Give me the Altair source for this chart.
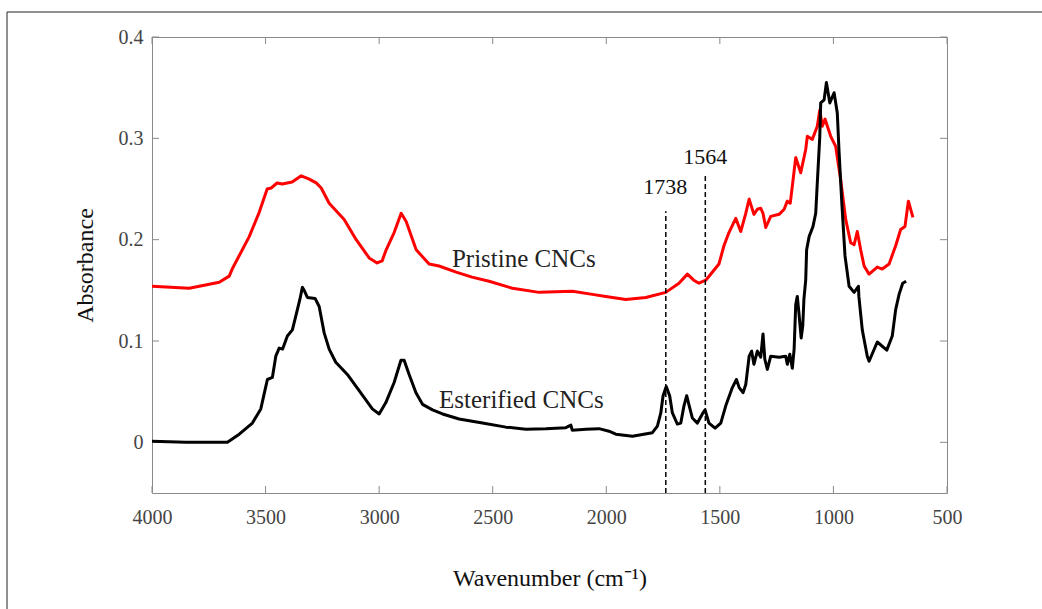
import altair as alt
import pandas as pd

# ---------------- data ----------------
pristine_wn = [4000, 3836, 3704, 3660, 3647, 3572, 3528, 3493, 3475, 3449, 3427, 3383, 3343, 3310,
               3277, 3255, 3220, 3154, 3101, 3044, 3009, 2987, 2969, 2934, 2903, 2881, 2837, 2780,
               2736, 2661, 2591, 2516, 2413, 2296, 2149, 2061, 2002, 1914, 1826, 1738, 1680, 1643,
               1615, 1592, 1562, 1504, 1482, 1460, 1430, 1408, 1386, 1371, 1350, 1335, 1320, 1310,
               1298, 1276, 1239, 1217, 1203, 1190, 1166, 1144, 1122, 1115, 1093, 1071, 1060, 1049,
               1037, 1012, 990, 968, 946, 924, 909, 895, 880, 865, 843, 807, 785, 755, 726, 704,
               685, 670, 650]
pristine_abs = [0.154, 0.152, 0.158, 0.164, 0.171, 0.203, 0.227, 0.250, 0.251, 0.256, 0.255, 0.257,
                0.263, 0.260, 0.256, 0.251, 0.236, 0.220, 0.200, 0.182, 0.177, 0.179, 0.190, 0.207,
                0.226, 0.218, 0.190, 0.176, 0.174, 0.168, 0.163, 0.159, 0.152, 0.148, 0.149, 0.146,
                0.144, 0.141, 0.143, 0.148, 0.157, 0.166, 0.160, 0.157, 0.160, 0.176, 0.194, 0.207,
                0.221, 0.208, 0.226, 0.240, 0.225, 0.230, 0.231, 0.226, 0.212, 0.223, 0.225, 0.230,
                0.238, 0.236, 0.281, 0.266, 0.289, 0.302, 0.299, 0.312, 0.328, 0.312, 0.319, 0.302,
                0.292, 0.259, 0.220, 0.197, 0.195, 0.208, 0.190, 0.174, 0.166, 0.173, 0.171, 0.176,
                0.194, 0.210, 0.213, 0.238, 0.222]

esterified_wn = [4000, 3851, 3748, 3668, 3616, 3558, 3521, 3502, 3492, 3470, 3455, 3440, 3425, 3404,
                 3382, 3360, 3349, 3338, 3328, 3316, 3282, 3264, 3242, 3220, 3191, 3140, 3088, 3030,
                 3000, 2971, 2934, 2904, 2890, 2868, 2838, 2809, 2765, 2721, 2648, 2545, 2442, 2354,
                 2266, 2178, 2156, 2150, 2090, 2032, 1988, 1958, 1885, 1797, 1775, 1760, 1750, 1736,
                 1721, 1709, 1687, 1672, 1658, 1646, 1636, 1621, 1599, 1577, 1565, 1548, 1521, 1496,
                 1474, 1445, 1427, 1415, 1398, 1386, 1371, 1360, 1350, 1335, 1320, 1310, 1302, 1291,
                 1276, 1239, 1210, 1203, 1192, 1181, 1173, 1166, 1159, 1152, 1142, 1135, 1130, 1122,
                 1118, 1107, 1090, 1078, 1071, 1060, 1056, 1041, 1031, 1016, 997, 983, 975, 963, 949,
                 931, 909, 890, 888, 873, 851, 843, 807, 765, 741, 726, 711, 695, 680]
esterified_abs = [0.001, 0.000, 0.000, 0.000, 0.008, 0.019, 0.033, 0.052, 0.062, 0.064, 0.085, 0.093,
                  0.092, 0.105, 0.111, 0.131, 0.141, 0.153, 0.149, 0.143, 0.142, 0.134, 0.108, 0.092,
                  0.079, 0.067, 0.051, 0.033, 0.028, 0.039, 0.059, 0.081, 0.081, 0.067, 0.049, 0.0375,
                  0.032, 0.028, 0.023, 0.019, 0.015, 0.013, 0.0135, 0.0145, 0.017, 0.012, 0.013,
                  0.0135, 0.011, 0.008, 0.006, 0.0095, 0.016, 0.029, 0.046, 0.055, 0.046, 0.029,
                  0.018, 0.019, 0.036, 0.046, 0.037, 0.024, 0.019, 0.028, 0.032, 0.019, 0.014, 0.019,
                  0.036, 0.054, 0.062, 0.054, 0.049, 0.057, 0.085, 0.090, 0.077, 0.090, 0.084, 0.107,
                  0.082, 0.072, 0.085, 0.084, 0.085, 0.077, 0.087, 0.073, 0.092, 0.136, 0.144, 0.128,
                  0.103, 0.115, 0.141, 0.160, 0.190, 0.203, 0.213, 0.226, 0.256, 0.302, 0.335, 0.338,
                  0.355, 0.335, 0.345, 0.325, 0.286, 0.236, 0.184, 0.154, 0.148, 0.154, 0.144, 0.111,
                  0.085, 0.080, 0.099, 0.091, 0.105, 0.131, 0.146, 0.157, 0.159]

x_ticks = [4000, 3500, 3000, 2500, 2000, 1500, 1000, 500]
y_ticks = [0, 0.1, 0.2, 0.3, 0.4]

peak_wn = [1738, 1564]
peak_top = [0.228, 0.265]
peak_label = ["1738", "1564"]
peak_label_wn = [1740, 1564]
peak_label_abs = [0.252, 0.282]

series_label = ["Pristine CNCs", "Esterified CNCs"]
series_label_wn = [2363, 2374]
series_label_abs = [0.181, 0.042]

X_MIN, X_MAX = 500, 4000
Y_MIN, Y_MAX = -0.05, 0.4

W, H = 795, 456
SERIF = "Liberation Serif"
GRAY = "#8a8a8a"

# ---------------- tables ----------------
red_df = pd.DataFrame({"wn": pristine_wn, "a": pristine_abs})
black_df = pd.DataFrame({"wn": esterified_wn, "a": esterified_abs})
xt_df = pd.DataFrame({"wn": x_ticks})
yt_df = pd.DataFrame({"a": y_ticks})
peak_df = pd.DataFrame({"wn": peak_wn, "a": [Y_MIN] * len(peak_wn), "a2": peak_top})
plabel_df = pd.DataFrame({"wn": peak_label_wn, "a": peak_label_abs, "t": peak_label})
slabel_df = pd.DataFrame({"wn": series_label_wn, "a": series_label_abs, "t": series_label})
frame_df = pd.DataFrame({"k": [0]})

xs = alt.Scale(domain=[X_MIN, X_MAX], reverse=True, nice=False, zero=False)
ys = alt.Scale(domain=[Y_MIN, Y_MAX], nice=False, zero=False)

xaxis = alt.Axis(values=x_ticks, format="d", ticks=False, tickSize=0, domain=False, grid=False,
                 labelFont=SERIF, labelFontSize=20, labelColor="#444444", labelPadding=14,
                 labelFlush=False, title="Wavenumber (cm⁻¹)", titleFont=SERIF, titleFontSize=24,
                 titleFontWeight="normal", titleColor="#111111", titleY=92,
                 titleBaseline="alphabetic")
yaxis = alt.Axis(values=y_ticks, format=".1~f", ticks=False, tickSize=0, domain=False, grid=False,
                 labelFont=SERIF, labelFontSize=20, labelColor="#444444", labelPadding=9,
                 labelFlush=False, title="Absorbance", titleFont=SERIF, titleFontSize=24,
                 titleFontWeight="normal", titleColor="#111111", titleX=-60,
                 titleBaseline="alphabetic")

X = alt.X("wn:Q", scale=xs, axis=xaxis)
Y = alt.Y("a:Q", scale=ys, axis=yaxis)

red = alt.Chart(red_df).mark_line(color="#ff0000", strokeWidth=3, strokeJoin="round").encode(
    x=X, y=Y, order="wn:Q")
black = alt.Chart(black_df).mark_line(color="#000000", strokeWidth=3, strokeJoin="round").encode(
    x=X, y=Y, order="wn:Q")

ticks_bottom = alt.Chart(xt_df).mark_rule(color=GRAY, strokeWidth=1).encode(
    x=X, y=alt.value(H), y2=alt.value(H - 7))
ticks_top = alt.Chart(xt_df).mark_rule(color=GRAY, strokeWidth=1).encode(
    x=X, y=alt.value(0), y2=alt.value(7))
ticks_left = alt.Chart(yt_df).mark_rule(color=GRAY, strokeWidth=1).encode(
    y=Y, x=alt.value(0), x2=alt.value(7))
ticks_right = alt.Chart(yt_df).mark_rule(color=GRAY, strokeWidth=1).encode(
    y=Y, x=alt.value(W - 7), x2=alt.value(W))

peaks = alt.Chart(peak_df).mark_rule(color="#000000", strokeWidth=1.5, strokeDash=[5, 3]).encode(
    x=X, y=Y, y2="a2:Q")

peak_text = alt.Chart(plabel_df).mark_text(font=SERIF, fontSize=22, color="#111111",
                                           align="center", baseline="middle").encode(
    x=X, y=Y, text="t:N")
series_text = alt.Chart(slabel_df).mark_text(font=SERIF, fontSize=25, color="#222222",
                                             align="center", baseline="middle").encode(
    x=X, y=Y, text="t:N")

frame_top = alt.Chart(frame_df).mark_rule(color="#222222", strokeWidth=1).encode(
    x=alt.value(-145), x2=alt.value(W + 95), y=alt.value(-25))
frame_left = alt.Chart(frame_df).mark_rule(color="#222222", strokeWidth=1).encode(
    x=alt.value(-145), y=alt.value(-25), y2=alt.value(H + 116))

chart = alt.layer(
    ticks_bottom, ticks_top, ticks_left, ticks_right,
    red, black, peaks, peak_text, series_text, frame_top, frame_left
).properties(
    width=W, height=H,
    autosize=alt.AutoSizeParams(type="none"),
    padding={"left": 152, "top": 37, "right": 95, "bottom": 116},
    background="white",
).configure_view(stroke=GRAY, strokeWidth=1)

chart.save("out.html", embed_options={"renderer": "svg", "actions": False})
